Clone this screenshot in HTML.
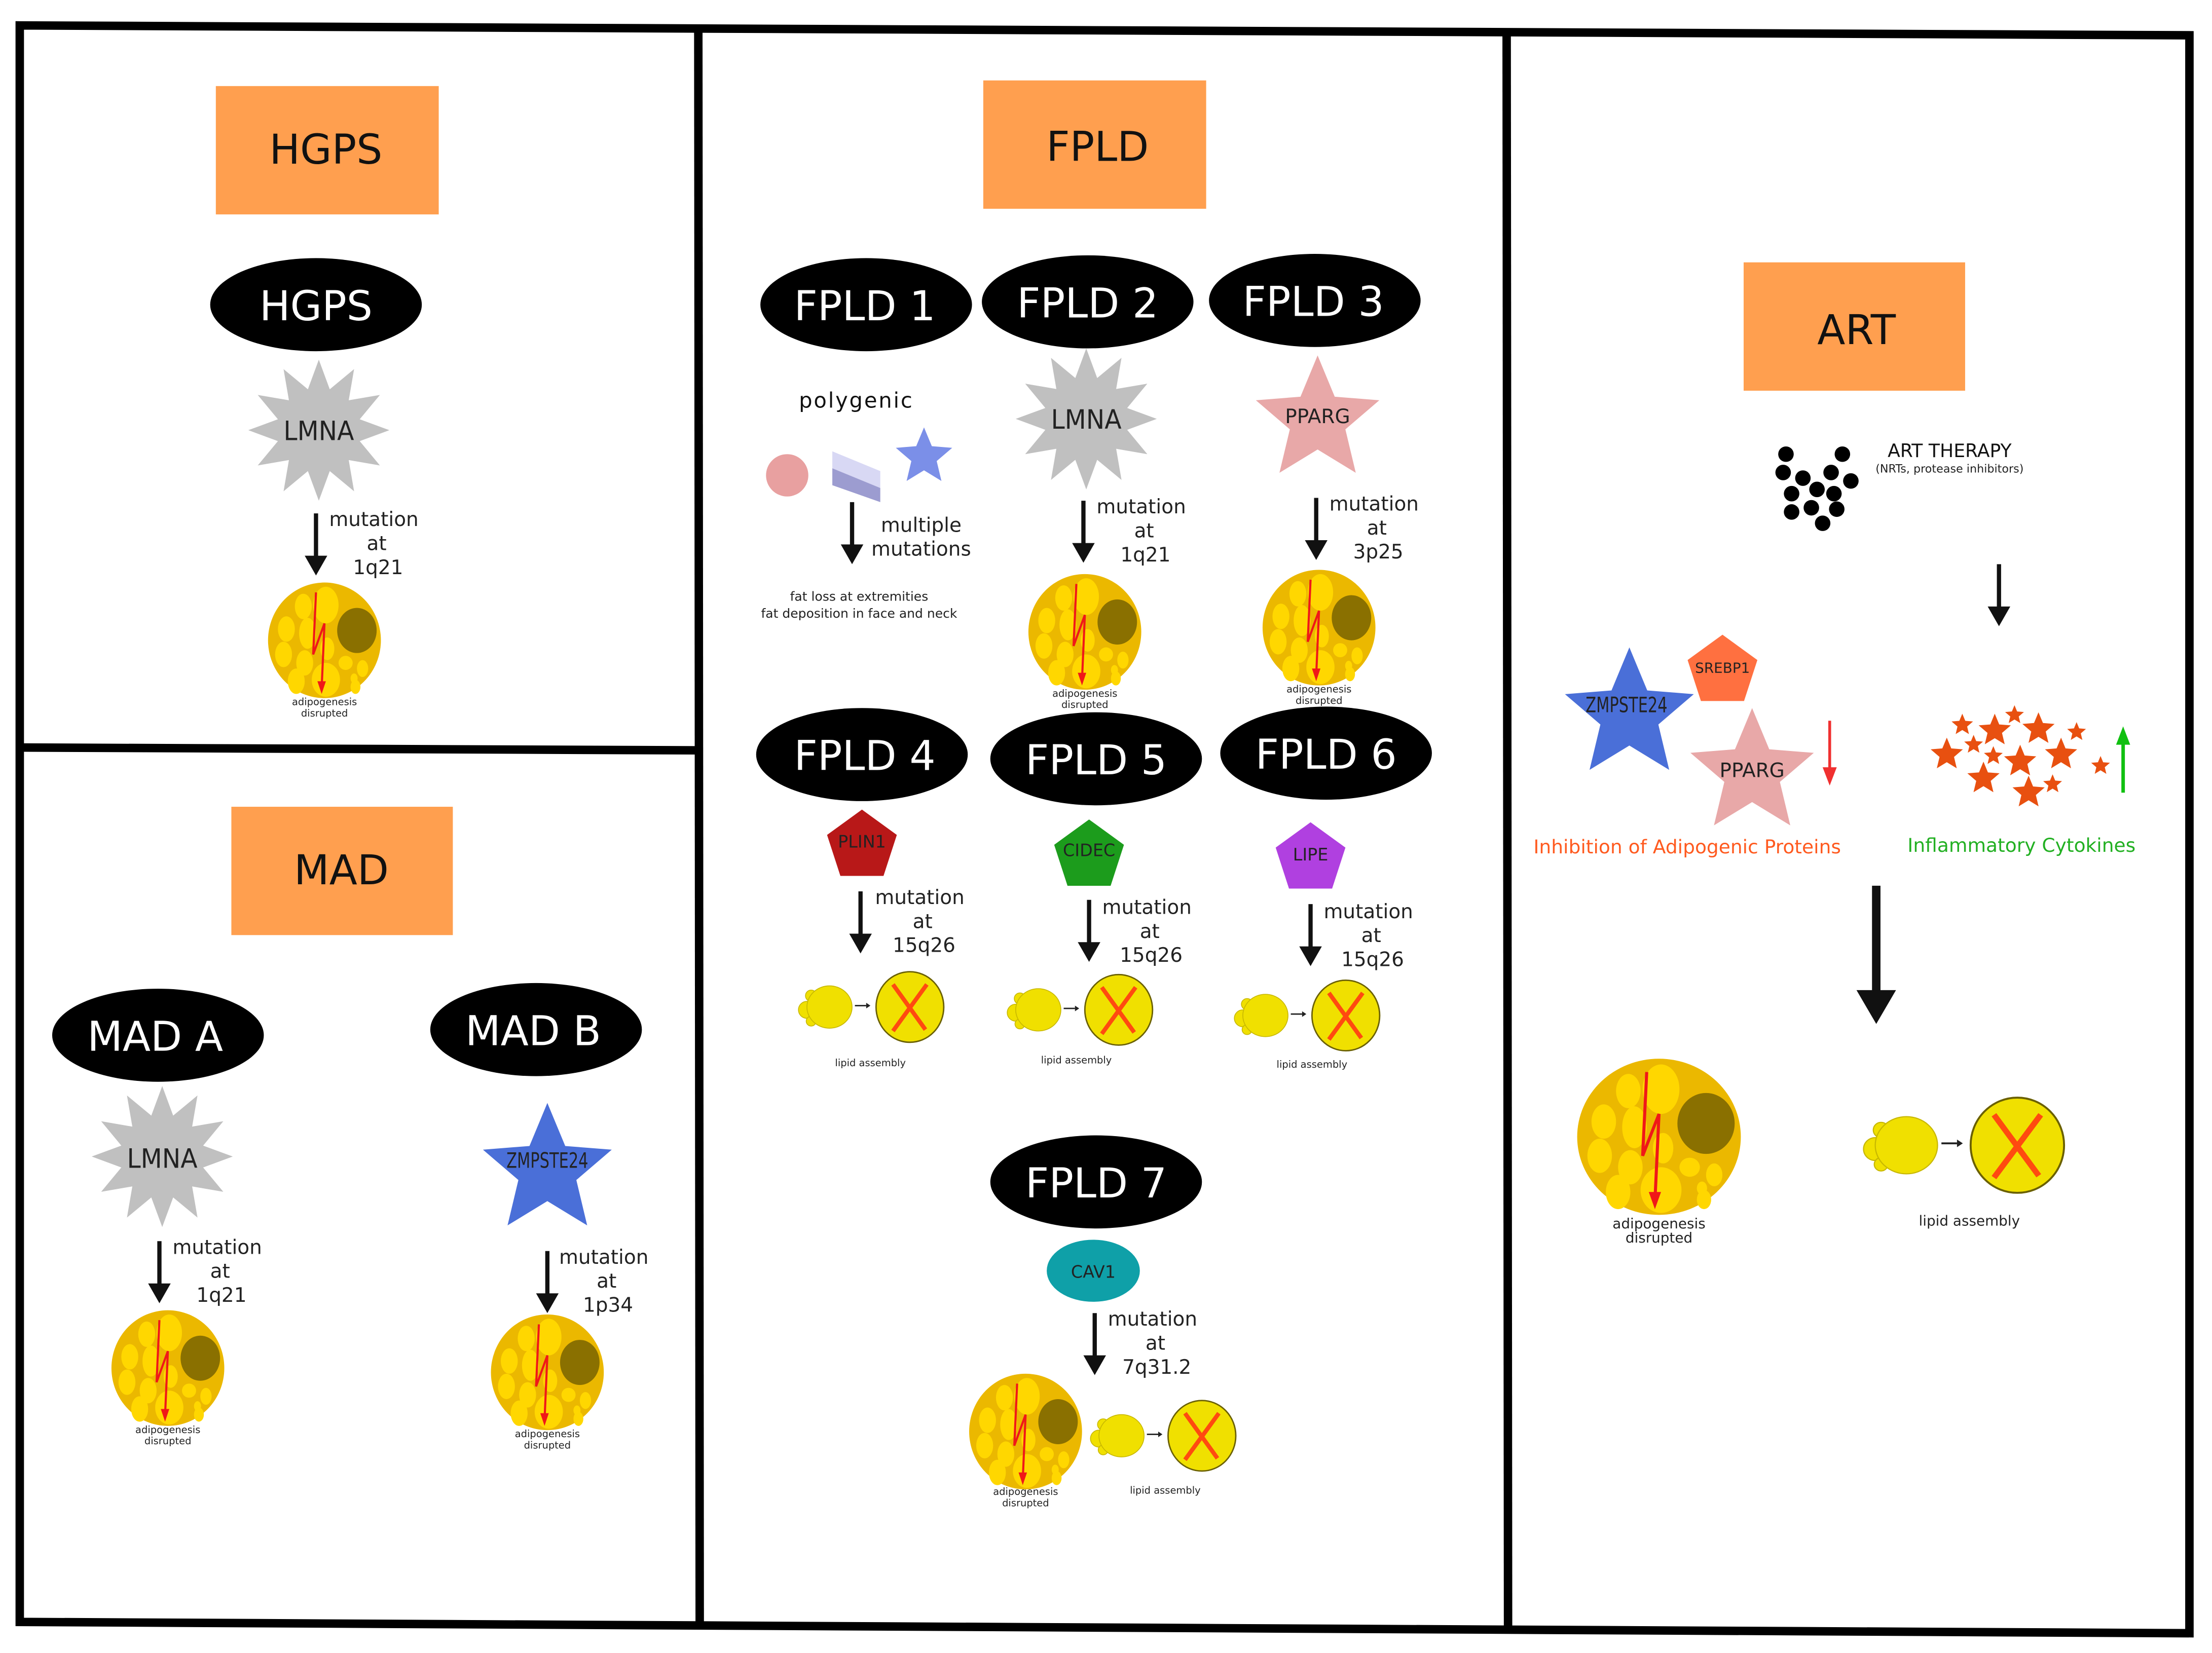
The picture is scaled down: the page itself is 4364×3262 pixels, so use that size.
<!DOCTYPE html>
<html><head><meta charset="utf-8"><style>
html,body{margin:0;padding:0;background:#fff;}
svg{display:block;}
text{font-family:"DejaVu Sans","Liberation Sans",sans-serif;}
</style></head><body>
<svg width="4364" height="3262" viewBox="0 0 1568 1172" xmlns="http://www.w3.org/2000/svg">
<defs>
<polygon id="star" points="0,-1 0.264,-0.364 0.951,-0.309 0.428,0.139 0.588,0.809 0,0.45 -0.588,0.809 -0.428,0.139 -0.951,-0.309 -0.264,-0.364"/>
<polygon id="pent" points="0,-1 0.951,-0.309 0.588,0.809 -0.588,0.809 -0.951,-0.309"/>
<polygon id="burst" points="0,-1 0.155,-0.58 0.5,-0.866 0.424,-0.424 0.866,-0.5 0.58,-0.155 1,0 0.58,0.155 0.866,0.5 0.424,0.424 0.5,0.866 0.155,0.58 0,1 -0.155,0.58 -0.5,0.866 -0.424,0.424 -0.866,0.5 -0.58,0.155 -1,0 -0.58,-0.155 -0.866,-0.5 -0.424,-0.424 -0.5,-0.866 -0.155,-0.58"/>
<g id="adipo">
<ellipse cx="0" cy="0" rx="40" ry="41" fill="#EBB800"/>
<g fill="#FFD700">
<ellipse cx="1" cy="-25" rx="9" ry="13"/>
<ellipse cx="-15" cy="-24" rx="6" ry="9"/>
<ellipse cx="-27" cy="-8" rx="6" ry="9"/>
<ellipse cx="-29" cy="10" rx="6" ry="9"/>
<ellipse cx="-12" cy="-5" rx="6" ry="11"/>
<ellipse cx="-14" cy="16" rx="6" ry="9"/>
<ellipse cx="2" cy="6" rx="5" ry="8"/>
<ellipse cx="-20" cy="29" rx="6" ry="9"/>
<ellipse cx="1" cy="28" rx="10" ry="12"/>
<ellipse cx="15" cy="16" rx="5" ry="5"/>
<ellipse cx="27" cy="20" rx="4" ry="6"/>
<ellipse cx="21" cy="27" rx="2.5" ry="3.5"/>
<ellipse cx="22" cy="33" rx="3.5" ry="5"/>
</g>
<ellipse cx="23" cy="-7" rx="14" ry="16" fill="#8A7000"/>
<polyline points="-6,-34 -8,10 0,-12 -2,34" fill="none" stroke="#F01818" stroke-width="1.5"/>
<polygon points="-5,29 1,29 -2,38" fill="#F01818"/>
</g>
<g id="lipid">
<circle cx="-41" cy="-8" r="4" fill="#F0E000" stroke="#C8B800" stroke-width="0.6"/>
<circle cx="-44" cy="2" r="6" fill="#F0E000" stroke="#C8B800" stroke-width="0.6"/>
<circle cx="-41" cy="10" r="3.5" fill="#F0E000" stroke="#C8B800" stroke-width="0.6"/>
<ellipse cx="-28" cy="0" rx="16" ry="15" fill="#F0E000" stroke="#C8B800" stroke-width="0.6"/>
<line x1="-10" y1="-1" x2="-2" y2="-1" stroke="#222" stroke-width="1"/>
<polygon points="-2,-3 1,-1 -2,1" fill="#222"/>
<ellipse cx="29" cy="0" rx="24" ry="25" fill="#F0E000" stroke="#6A6000" stroke-width="1"/>
<line x1="17" y1="-16" x2="40" y2="16" stroke="#FF4A10" stroke-width="3"/>
<line x1="41" y1="-16" x2="17" y2="17" stroke="#FF4A10" stroke-width="3"/>
</g>
<g id="arr"><line x1="0" y1="0" x2="0" y2="34" stroke="#111" stroke-width="3"/><polygon points="-8,30 8,30 0,44" fill="#111"/></g>
</defs>

<g fill="none" stroke="#000" stroke-width="6" stroke-linejoin="miter">
<polygon points="14,18 1552,25 1552,1158 14,1150"/>
<line x1="495" y1="20" x2="496" y2="1152"/>
<line x1="1068" y1="22" x2="1069" y2="1155"/>
<line x1="14" y1="530" x2="495" y2="532"/>
</g>

<g fill="#FF9F4F">
<rect x="153" y="61" width="158" height="91"/>
<rect x="164" y="572" width="157" height="91"/>
<rect x="697" y="57" width="158" height="91"/>
<rect x="1236" y="186" width="157" height="91"/>
</g>
<g font-size="29" text-anchor="middle" fill="#111">
<text x="231" y="116">HGPS</text>
<text x="242" y="627">MAD</text>
<text x="778" y="114">FPLD</text>
<text x="1316" y="244">ART</text>
</g>

<g fill="#000">
<ellipse cx="224" cy="216" rx="75" ry="33"/>
<ellipse cx="112" cy="734" rx="75" ry="33"/>
<ellipse cx="380" cy="730" rx="75" ry="33"/>
<ellipse cx="614" cy="216" rx="75" ry="33"/>
<ellipse cx="771" cy="214" rx="75" ry="33"/>
<ellipse cx="932" cy="213" rx="75" ry="33"/>
<ellipse cx="611" cy="535" rx="75" ry="33"/>
<ellipse cx="777" cy="538" rx="75" ry="33"/>
<ellipse cx="940" cy="534" rx="75" ry="33"/>
<ellipse cx="777" cy="838" rx="75" ry="33"/>
</g>
<g font-size="29" text-anchor="middle" fill="#fff">
<text x="224" y="227">HGPS</text>
<text x="110" y="745">MAD A</text>
<text x="378" y="741">MAD B</text>
<text x="613" y="227">FPLD 1</text>
<text x="771" y="225">FPLD 2</text>
<text x="931" y="224">FPLD 3</text>
<text x="613" y="546">FPLD 4</text>
<text x="777" y="549">FPLD 5</text>
<text x="940" y="545">FPLD 6</text>
<text x="777" y="849">FPLD 7</text>
</g>

<use href="#burst" transform="translate(226,305) scale(50,50)" fill="#C0C0C0"/>
<text x="226" y="312" font-size="19" text-anchor="middle" fill="#222" textLength="50" lengthAdjust="spacingAndGlyphs">LMNA</text>
<use href="#arr" transform="translate(224,364)"/>
<g font-size="14" text-anchor="middle" fill="#222"><text x="265" y="373">mutation</text><text x="267" y="390">at</text><text x="268" y="407">1q21</text></g>
<use href="#adipo" transform="translate(230,454)"/>
<g font-size="7" text-anchor="middle" fill="#222"><text x="230" y="500">adipogenesis</text><text x="230" y="508">disrupted</text></g>

<use href="#burst" transform="translate(115,820) scale(50,50)" fill="#C0C0C0"/>
<text x="115" y="828" font-size="19" text-anchor="middle" fill="#222" textLength="50" lengthAdjust="spacingAndGlyphs">LMNA</text>
<use href="#arr" transform="translate(113,880)"/>
<g font-size="14" text-anchor="middle" fill="#222"><text x="154" y="889">mutation</text><text x="156" y="906">at</text><text x="157" y="923">1q21</text></g>
<use href="#adipo" transform="translate(119,970)"/>
<g font-size="7" text-anchor="middle" fill="#222"><text x="119" y="1016">adipogenesis</text><text x="119" y="1024">disrupted</text></g>

<use href="#star" transform="translate(388,830) scale(48,48)" fill="#4A6FD8"/>
<text x="388" y="828" font-size="15" text-anchor="middle" fill="#222" textLength="58" lengthAdjust="spacingAndGlyphs">ZMPSTE24</text>
<use href="#arr" transform="translate(388,887)"/>
<g font-size="14" text-anchor="middle" fill="#222"><text x="428" y="896">mutation</text><text x="430" y="913">at</text><text x="431" y="930">1p34</text></g>
<use href="#adipo" transform="translate(388,973)"/>
<g font-size="7" text-anchor="middle" fill="#222"><text x="388" y="1019">adipogenesis</text><text x="388" y="1027">disrupted</text></g>

<text x="607" y="289" font-size="15" text-anchor="middle" fill="#111" letter-spacing="1">polygenic</text>
<circle cx="558" cy="337" r="15" fill="#E8A0A0"/>
<polygon points="590,320 624,334 624,346 590,332" fill="#D8D8F4"/>
<polygon points="590,332 624,346 624,356 590,344" fill="#9C9CD0"/>
<use href="#star" transform="translate(655,324) scale(21,21)" fill="#7B8FE8"/>
<use href="#arr" transform="translate(604,356)"/>
<g font-size="14" text-anchor="middle" fill="#222"><text x="653" y="377">multiple</text><text x="653" y="394">mutations</text></g>
<g font-size="9" text-anchor="middle" fill="#222"><text x="609" y="426">fat loss at extremities</text><text x="609" y="438">fat deposition in face and neck</text></g>

<use href="#burst" transform="translate(770,297) scale(50,50)" fill="#C0C0C0"/>
<text x="770" y="304" font-size="19" text-anchor="middle" fill="#222" textLength="50" lengthAdjust="spacingAndGlyphs">LMNA</text>
<use href="#arr" transform="translate(768,355)"/>
<g font-size="14" text-anchor="middle" fill="#222"><text x="809" y="364">mutation</text><text x="811" y="381">at</text><text x="812" y="398">1q21</text></g>
<use href="#adipo" transform="translate(769,448)"/>
<g font-size="7" text-anchor="middle" fill="#222"><text x="769" y="494">adipogenesis</text><text x="769" y="502">disrupted</text></g>

<use href="#star" transform="translate(934,298) scale(46,46)" fill="#E8A8A8"/>
<text x="934" y="300" font-size="14" text-anchor="middle" fill="#222">PPARG</text>
<use href="#arr" transform="translate(933,353)"/>
<g font-size="14" text-anchor="middle" fill="#222"><text x="974" y="362">mutation</text><text x="976" y="379">at</text><text x="977" y="396">3p25</text></g>
<use href="#adipo" transform="translate(935,445)"/>
<g font-size="7" text-anchor="middle" fill="#222"><text x="935" y="491">adipogenesis</text><text x="935" y="499">disrupted</text></g>

<use href="#pent" transform="translate(611,600) scale(26,26)" fill="#B81818"/>
<text x="611" y="601" font-size="12" text-anchor="middle" fill="#222">PLIN1</text>
<use href="#arr" transform="translate(610,632)"/>
<g font-size="14" text-anchor="middle" fill="#222"><text x="652" y="641">mutation</text><text x="654" y="658">at</text><text x="655" y="675">15q26</text></g>
<use href="#lipid" transform="translate(616,714)"/>
<text x="617" y="756" font-size="7" text-anchor="middle" fill="#222">lipid assembly</text>

<use href="#pent" transform="translate(772,607) scale(26,26)" fill="#1C9C1C"/>
<text x="772" y="607" font-size="12" text-anchor="middle" fill="#222">CIDEC</text>
<use href="#arr" transform="translate(772,638)"/>
<g font-size="14" text-anchor="middle" fill="#222"><text x="813" y="648">mutation</text><text x="815" y="665">at</text><text x="816" y="682">15q26</text></g>
<use href="#lipid" transform="translate(764,716)"/>
<text x="763" y="754" font-size="7" text-anchor="middle" fill="#222">lipid assembly</text>

<use href="#pent" transform="translate(929,609) scale(26,26)" fill="#B040E0"/>
<text x="929" y="610" font-size="12" text-anchor="middle" fill="#222">LIPE</text>
<use href="#arr" transform="translate(929,641)"/>
<g font-size="14" text-anchor="middle" fill="#222"><text x="970" y="651">mutation</text><text x="972" y="668">at</text><text x="973" y="685">15q26</text></g>
<use href="#lipid" transform="translate(925,720)"/>
<text x="930" y="757" font-size="7" text-anchor="middle" fill="#222">lipid assembly</text>

<ellipse cx="775" cy="901" rx="33" ry="22" fill="#0FA0A8"/>
<text x="775" y="906" font-size="12" text-anchor="middle" fill="#222">CAV1</text>
<use href="#arr" transform="translate(776,931)"/>
<g font-size="14" text-anchor="middle" fill="#222"><text x="817" y="940">mutation</text><text x="819" y="957">at</text><text x="820" y="974">7q31.2</text></g>
<use href="#adipo" transform="translate(727,1015)"/>
<g font-size="7" text-anchor="middle" fill="#222"><text x="727" y="1060">adipogenesis</text><text x="727" y="1068">disrupted</text></g>
<use href="#lipid" transform="translate(823,1018)"/>
<text x="826" y="1059" font-size="7" text-anchor="middle" fill="#222">lipid assembly</text>

<g fill="#000">
<circle cx="1266" cy="322" r="5.5"/><circle cx="1306" cy="322" r="5.5"/><circle cx="1264" cy="335" r="5.5"/>
<circle cx="1278" cy="339" r="5.5"/><circle cx="1298" cy="335" r="5.5"/><circle cx="1312" cy="341" r="5.5"/>
<circle cx="1270" cy="350" r="5.5"/><circle cx="1288" cy="347" r="5.5"/><circle cx="1300" cy="350" r="5.5"/>
<circle cx="1284" cy="360" r="5.5"/><circle cx="1270" cy="363" r="5.5"/><circle cx="1302" cy="361" r="5.5"/>
<circle cx="1292" cy="371" r="5.5"/>
</g>
<text x="1382" y="324" font-size="13" text-anchor="middle" fill="#111">ART THERAPY</text>
<text x="1382" y="335" font-size="8" text-anchor="middle" fill="#222">(NRTs, protease inhibitors)</text>
<use href="#arr" transform="translate(1417,400)"/>

<use href="#star" transform="translate(1155,507) scale(48,48)" fill="#4A6FD8"/>
<text x="1153" y="505" font-size="15" text-anchor="middle" fill="#222" textLength="58" lengthAdjust="spacingAndGlyphs">ZMPSTE24</text>
<use href="#pent" transform="translate(1221,476) scale(26,26)" fill="#FF7040"/>
<text x="1221" y="477" font-size="10" text-anchor="middle" fill="#222">SREBP1</text>
<use href="#star" transform="translate(1242,548) scale(46,46)" fill="#E8A8A8"/>
<text x="1242" y="551" font-size="14" text-anchor="middle" fill="#222">PPARG</text>
<line x1="1297" y1="511" x2="1297" y2="548" stroke="#F03030" stroke-width="2"/>
<polygon points="1292,544 1302,544 1297,557" fill="#F03030"/>
<text x="1196" y="605" font-size="13.5" text-anchor="middle" fill="#FF5A1F">Inhibition of Adipogenic Proteins</text>

<g fill="#E85010">
<use href="#star" transform="translate(1391,514) scale(8)"/>
<use href="#star" transform="translate(1414,518) scale(12)"/>
<use href="#star" transform="translate(1428,507) scale(7)"/>
<use href="#star" transform="translate(1445,517) scale(12)"/>
<use href="#star" transform="translate(1472,519) scale(7)"/>
<use href="#star" transform="translate(1380,535) scale(12)"/>
<use href="#star" transform="translate(1399,528) scale(7)"/>
<use href="#star" transform="translate(1413,536) scale(7)"/>
<use href="#star" transform="translate(1432,540) scale(12)"/>
<use href="#star" transform="translate(1461,535) scale(12)"/>
<use href="#star" transform="translate(1489,543) scale(7)"/>
<use href="#star" transform="translate(1406,552) scale(12)"/>
<use href="#star" transform="translate(1438,562) scale(12)"/>
<use href="#star" transform="translate(1455,556) scale(7)"/>
</g>
<line x1="1505" y1="562" x2="1505" y2="525" stroke="#10C010" stroke-width="2.5"/>
<polygon points="1500,528 1510,528 1505,515" fill="#10C010"/>
<text x="1433" y="604" font-size="13.5" text-anchor="middle" fill="#22B022">Inflammatory Cytokines</text>

<line x1="1330" y1="628" x2="1330" y2="705" stroke="#111" stroke-width="6"/>
<polygon points="1316,702 1344,702 1330,726" fill="#111"/>

<use href="#adipo" transform="translate(1176,806) scale(1.45,1.35)"/>
<g font-size="10" text-anchor="middle" fill="#222"><text x="1176" y="871">adipogenesis</text><text x="1176" y="881">disrupted</text></g>
<use href="#lipid" transform="translate(1390,812) scale(1.38,1.35)"/>
<text x="1396" y="869" font-size="10" text-anchor="middle" fill="#222">lipid assembly</text>
</svg>
</body></html>
